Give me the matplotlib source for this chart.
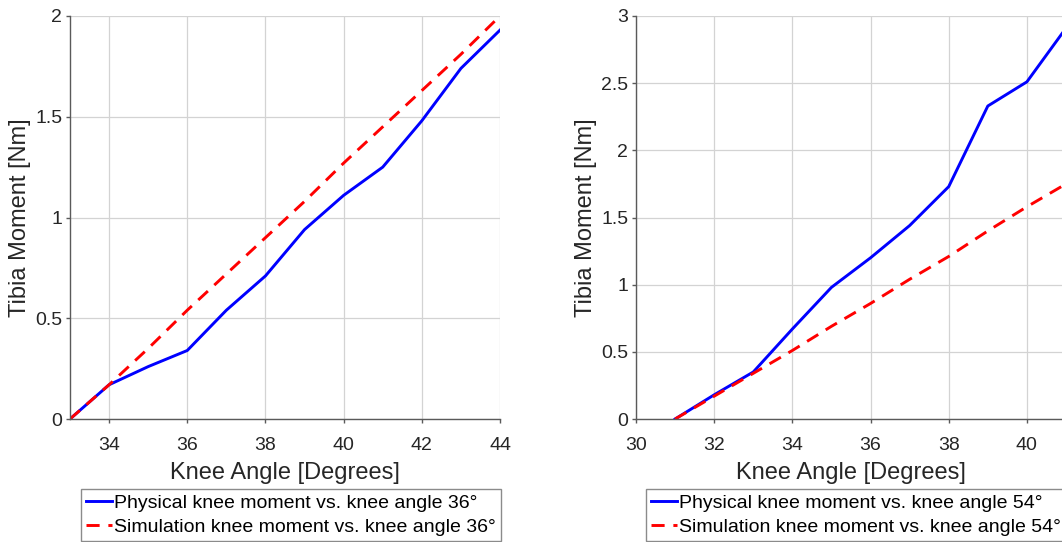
import matplotlib
matplotlib.use("Agg")
from matplotlib import pyplot as plt

plt.rcParams['font.family'] = ['Liberation Sans', 'DejaVu Sans']

# knee angle 36 deg test
angle_36 = [33, 34, 35, 36, 37, 38, 39, 40, 41, 42, 43, 44]
physical_36 = [0.0, 0.17, 0.26, 0.34, 0.54, 0.71, 0.94, 1.11, 1.25, 1.48, 1.74, 1.93]
simulation_36 = [0.0, 0.17, 0.35, 0.54, 0.72, 0.90, 1.08, 1.27, 1.45, 1.63, 1.81, 2.0]

# knee angle 54 deg test
angle_54 = [31, 32, 33, 34, 35, 36, 37, 38, 39, 40, 41]
physical_54 = [0.0, 0.18, 0.35, 0.67, 0.98, 1.20, 1.44, 1.73, 2.33, 2.51, 2.91]
simulation_54 = [0.0, 0.17, 0.34, 0.51, 0.69, 0.86, 1.04, 1.21, 1.40, 1.58, 1.75]

labels_36 = ['Physical knee moment vs. knee angle 36°', 'Simulation knee moment vs. knee angle 36°']
labels_54 = ['Physical knee moment vs. knee angle 54°', 'Simulation knee moment vs. knee angle 54°']

W, H = 1062, 542
fig = plt.figure(figsize=(W / 100, H / 100), dpi=100)


def setup_axes(ax, xlim, ylim, xticks, yticks, yticklabels):
    ax.set_xlim(*xlim)
    ax.set_ylim(*ylim)
    ax.set_xticks(xticks)
    ax.set_yticks(yticks)
    ax.set_yticklabels(yticklabels)
    ax.grid(True, color='#d3d3d3', linewidth=0.9)
    ax.set_axisbelow(True)
    for s in ['top', 'right']:
        ax.spines[s].set_visible(False)
    for s in ['left', 'bottom']:
        ax.spines[s].set_color('#5a5a5a')
        ax.spines[s].set_linewidth(1.0)
    ax.tick_params(axis='both', direction='out', length=3, width=1.0,
                   color='#5a5a5a', labelsize=14, labelcolor='#262626')
    ax.tick_params(axis='x', pad=10)
    ax.tick_params(axis='y', pad=2.5)
    ax.set_xlabel('Knee Angle [Degrees]', fontsize=17, color='#262626', labelpad=6)
    ax.set_ylabel('Tibia Moment [Nm]', fontsize=17, color='#262626', labelpad=3)


def add_legend(ax, handles, labels, x_px):
    leg = fig.legend(handles, labels, loc='upper left',
                     bbox_to_anchor=(x_px / W, 1 - 489 / H),
                     bbox_transform=fig.transFigure, borderaxespad=0,
                     fontsize=14, frameon=True, fancybox=False,
                     handlelength=1.3, handletextpad=0.1, labelspacing=0.3,
                     borderpad=0.28)
    leg.get_frame().set_edgecolor('#6e6e6e')
    leg.get_frame().set_linewidth(1.0)


ax1 = fig.add_axes([70 / W, 1 - 419 / H, 430 / W, 403 / H])
l1, = ax1.plot(angle_36, physical_36, color='#0000ff', linewidth=2.1)
l2, = ax1.plot(angle_36, simulation_36, color='#ff0000', linewidth=2.1, dashes=(4.5, 3))
setup_axes(ax1, (33, 44), (0, 2), [34, 36, 38, 40, 42, 44],
           [0, 0.5, 1, 1.5, 2], ['0', '0.5', '1', '1.5', '2'])
add_legend(ax1, [l1, l2], labels_36, 81)

ax2 = fig.add_axes([636 / W, 1 - 419 / H, 430 / W, 403 / H])
r1, = ax2.plot(angle_54, physical_54, color='#0000ff', linewidth=2.1)
r2, = ax2.plot(angle_54, simulation_54, color='#ff0000', linewidth=2.1, dashes=(4.5, 3))
setup_axes(ax2, (30, 41), (0, 3), [30, 32, 34, 36, 38, 40],
           [0, 0.5, 1, 1.5, 2, 2.5, 3], ['0', '0.5', '1', '1.5', '2', '2.5', '3'])
add_legend(ax2, [r1, r2], labels_54, 646)

fig.savefig('out.png', dpi=100)
